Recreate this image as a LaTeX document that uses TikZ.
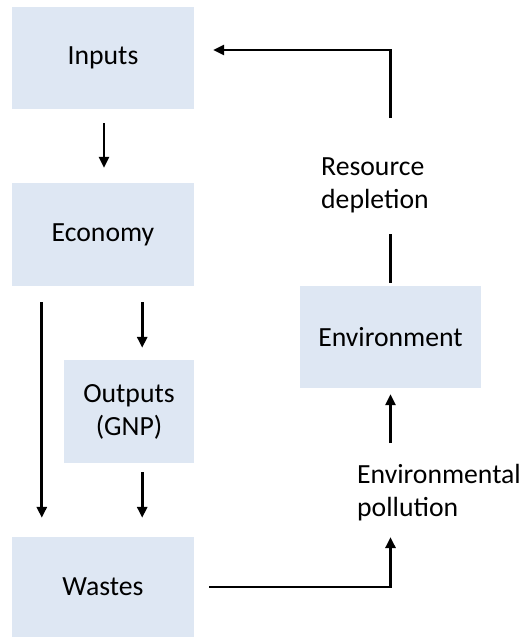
\documentclass[tikz,border=0pt]{standalone}
\usepackage{fontspec}
\setmainfont{Carlito}
\usetikzlibrary{arrows.meta}
\definecolor{boxfill}{HTML}{DEE7F3}
\tikzset{
  box/.style={fill=boxfill, draw=none, inner sep=0pt, align=center,
    font=\fontsize{27.7}{33}\selectfont},
  lbl/.style={inner sep=0pt, align=left, font=\fontsize{27.7}{33}\selectfont},
  link/.style={line width=2.9pt, draw=black},
  arr/.style={link, -{Triangle[length=11pt,width=10pt]}}
}
\begin{document}
\begin{tikzpicture}[x=1pt,y=-1pt]
  \useasboundingbox (0,0) rectangle (528,637);

  % boxes
  \node[box, minimum width=182pt, minimum height=102pt] (inputs) at (103,58) {Inputs};
  \node[box, minimum width=182pt, minimum height=103pt] (economy) at (103,234.5) {Economy};
  \node[box, minimum width=130pt, minimum height=103pt] (outputs) at (129,411.5) {Outputs\\(GNP)};
  \node[box, minimum width=182pt, minimum height=100pt] (wastes) at (103,587) {Wastes};
  \node[box, minimum width=181pt, minimum height=102pt] (env) at (390.5,337) {Environment};

  % labels on the return flows
  \node[lbl, anchor=north west] (depl) at (321,158) {Resource\\depletion};
  \node[lbl, anchor=north west] (poll) at (357,464) {Environmental\\pollution};

  % flows through the economy
  \draw[arr, shorten <=14pt, shorten >=15pt] ([xshift=1pt]inputs.south) -- ([xshift=1pt]economy.north);
  \draw[arr, shorten <=16pt, shorten >=19pt] ([xshift=30pt]economy.south west) -- ([xshift=30pt]wastes.north west);
  \draw[arr, shorten <=16pt, shorten >=12pt] ([xshift=-52pt]economy.south east) -- ([xshift=-52pt]outputs.north east);
  \draw[arr, shorten <=9pt, shorten >=19pt] ([xshift=-52pt]outputs.south east) -- ([xshift=-52pt]wastes.north east);

  % wastes into the environment
  \draw[arr, shorten <=15pt, shorten >=16pt] (wastes.east) -| (poll.south -| env.south);
  \draw[arr, shorten <=21pt, shorten >=6pt] (poll.north -| env.south) -- (env.south);

  % resources back to the inputs
  \draw[link, shorten <=3pt, shorten >=20pt] (env.north) -- (depl.south -| env.north);
  \draw[arr, shorten <=40pt, shorten >=19pt] (depl.north -| env.north) |- ([yshift=8pt]inputs.east);
\end{tikzpicture}
\end{document}
